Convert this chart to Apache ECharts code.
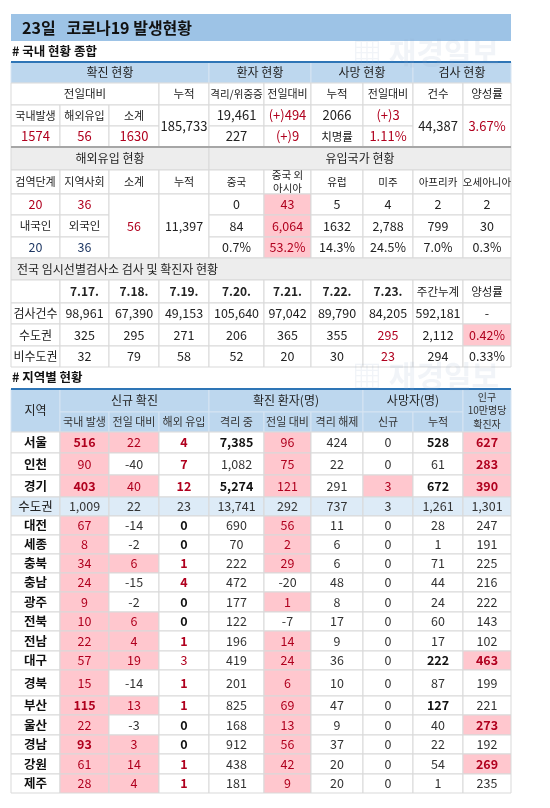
<!DOCTYPE html>
<html><head><meta charset="utf-8">
<script src="https://cdn.jsdelivr.net/npm/echarts@6/dist/echarts.min.js"></script>
<style>html,body{margin:0;padding:0;background:#fff}#c{width:550px;height:808px}</style>
</head><body><div id="c"></div>
<script>
// ---- data ----
const titleText = '23일   코로나19 발생현황';
const sec1Title = '# 국내 현황 종합';
const sec2Title = '# 지역별 현황';
const t1Header = ['확진 현황','환자 현황','사망 현황','검사 현황'];
const t1Sub = ['전일대비','누적','격리/위중증','전일대비','누적','전일대비','건수','양성률'];
const confirmedLabels = ['국내발생','해외유입','소계'];
const confirmedValues = ['1574','56','1630'];
const confirmedCumulative = '185,733';
const patients = ['19,461','(+)494','227','(+)9'];
const deaths = ['2066','(+)3','치명률','1.11%'];
const tests = ['44,387','3.67%'];
const importHeader = ['해외유입 현황','유입국가 현황'];
const importLabels = ['검역단계','지역사회','소계','누적'];
const importTop = ['20','36'];
const importMid = ['내국인','외국인'];
const importBottom = ['20','36'];
const importSubtotal = '56';
const importCumulative = '11,397';
const countries = ['중국','중국 외\n아시아','유럽','미주','아프리카','오세아니아'];
const countryToday = ['0','43','5','4','2','2'];
const countryCum = ['84','6,064','1632','2,788','799','30'];
const countryPct = ['0.7%','53.2%','14.3%','24.5%','7.0%','0.3%'];
const screenTitle = '전국 임시선별검사소 검사 및 확진자 현황';
const screenDates = ['7.17.','7.18.','7.19.','7.20.','7.21.','7.22.','7.23.','주간누계','양성률'];
const screenTests = ['98,961','67,390','49,153','105,640','97,042','89,790','84,205','592,181','-'];
const screenMetro = ['325','295','271','206','365','355','295','2,112','0.42%'];
const screenNonMetro = ['32','79','58','52','20','30','23','294','0.33%'];
const regionGroups = ['신규 확진','확진 환자(명)','사망자(명)'];
const regionSub = ['국내 발생','전일 대비','해외 유입','격리 중','전일 대비','격리 해제','신규','누적'];
const regions = ['서울','인천','경기','수도권','대전','세종','충북','충남','광주','전북','전남','대구','경북','부산','울산','경남','강원','제주'];
const domestic = ['516','90','403','1,009','67','8','34','24','9','10','22','57','15','115','22','93','61','28'];
const domesticDiff = ['22','-40','40','22','-14','-2','6','-15','-2','6','4','19','-14','13','-3','3','14','4'];
const imported = ['4','7','12','23','0','0','1','4','0','0','1','3','1','1','0','0','1','1'];
const isolated = ['7,385','1,082','5,274','13,741','690','70','222','472','177','122','196','419','201','825','168','912','438','181'];
const isolatedDiff = ['96','75','121','292','56','2','29','-20','1','-7','14','24','6','69','13','56','42','9'];
const released = ['424','22','291','737','11','6','6','48','8','17','9','36','10','47','9','37','20','20'];
const deathNew = ['0','0','3','3','0','0','0','0','0','0','0','0','0','0','0','0','0','0'];
const deathCum = ['528','61','672','1,261','28','1','71','44','24','60','17','222','87','127','40','22','54','1'];
const per100k = ['627','283','390','1,301','247','191','225','216','222','143','102','463','199','221','273','192','269','235'];
const regionStyles = ['PpRBp..BP','p.R.p...P','PpRBp.pBP','.........','p.B.p....','p.B.p....','ppR.p....','p.R......','p.B.p....','ppB......','ppR.p....','ppr.p..BP','p.R.p....','PpR.p..B.','p.B.p...P','PpB.p....','ppR.p...P','ppR.p....'];

// ---- layout ----
const X = [11,60,109,159,209,264,311,363,413,463,511];
const Y = [62,83,105,126,147,170,194,215,237,258,280,303,324,346,367];
const YH = [389,412,432];
const YR = [432,453,475,497,516,535,554,573,592,612,631,651,670,696,715,735,754,774,793];
const FONT = '"Noto Sans CJK KR","Noto Sans",sans-serif';
const PINK = '#FFC7CE', RED = '#B0001E', BLUE_H = '#BDD7EE', GRAY_H = '#EDEDED', GRID = '#D9D9D9';
const els = [];
function cell(t, c0, c1, y0, y1, o) {
  o = o || {};
  els.push({type:'rect', shape:{x:X[c0], y:y0, width:X[c1]-X[c0], height:y1-y0},
    style:{fill:o.bg||'#fff', stroke:o.stroke||GRID, lineWidth:1}, z:1});
  if (t !== '' && t != null) {
    els.push({type:'text', x: o.left ? X[c0]+6 : (X[c0]+X[c1])/2, y:(y0+y1)/2,
      style:{text:t, fill:o.color||'#222', font:(o.bold?'bold ':'')+(o.size||12)+'px '+FONT,
        align:o.left?'left':'center', verticalAlign:'middle', lineHeight:o.lh||14}, z:3});
  }
}
function sty(code){
  switch(code){
    case 'P': return {bg:PINK,color:RED,bold:true};
    case 'p': return {bg:PINK,color:RED};
    case 'R': return {color:RED,bold:true};
    case 'r': return {color:RED};
    case 'B': return {bold:true,color:'#111'};
    default: return {color:'#333'};
  }
}
// title
els.push({type:'rect', shape:{x:11,y:14,width:500,height:27}, style:{fill:'#9DC3E6'}, z:1});
els.push({type:'text', x:22, y:28, style:{text:titleText, font:'bold 16px '+FONT, fill:'#111', verticalAlign:'middle'}, z:3});
els.push({type:'text', x:12, y:51, style:{text:sec1Title, font:'bold 12.5px '+FONT, fill:'#111', verticalAlign:'middle'}, z:3});
// watermarks
[[352,53],[352,376]].forEach(p=>els.push({type:'text', x:p[0], y:p[1], style:{text:'▦ 재경일보', font:'bold 30px '+FONT, fill:'rgba(150,170,200,0.13)', verticalAlign:'middle'}, z:5}));

// table 1
const hb = {bg:BLUE_H, stroke:'#D6E4F2', color:'#222'};
[[0,4],[4,6],[6,8],[8,10]].forEach((s,i)=>cell(t1Header[i], s[0], s[1], Y[0], Y[1], hb));
[[0,3],[3,4],[4,5],[5,6],[6,7],[7,8],[8,9],[9,10]].forEach((s,i)=>cell(t1Sub[i], s[0], s[1], Y[1], Y[2], {size: i==2?10.5:(i==3||i==5?11:11.5)}));
confirmedLabels.forEach((t,i)=>cell(t,i,i+1,Y[2],Y[3],{size:11}));
confirmedValues.forEach((t,i)=>cell(t,i,i+1,Y[3],Y[4],{color:RED,size:13}));
cell(confirmedCumulative,3,4,Y[2],Y[4],{size:13});
cell(patients[0],4,5,Y[2],Y[3],{size:13}); cell(patients[1],5,6,Y[2],Y[3],{color:RED,size:13});
cell(patients[2],4,5,Y[3],Y[4],{size:13}); cell(patients[3],5,6,Y[3],Y[4],{color:RED,size:13});
cell(deaths[0],6,7,Y[2],Y[3],{size:13}); cell(deaths[1],7,8,Y[2],Y[3],{color:RED,size:13});
cell(deaths[2],6,7,Y[3],Y[4],{size:11.5}); cell(deaths[3],7,8,Y[3],Y[4],{color:RED,size:13});
cell(tests[0],8,9,Y[2],Y[4],{size:13}); cell(tests[1],9,10,Y[2],Y[4],{color:RED,size:13});
// table 2
cell(importHeader[0],0,4,Y[4],Y[5],{bg:GRAY_H}); cell(importHeader[1],4,10,Y[4],Y[5],{bg:GRAY_H});
importLabels.forEach((t,i)=>cell(t,i,i+1,Y[5],Y[6],{size:11}));
countries.forEach((t,i)=>cell(t,i+4,i+5,Y[5],Y[6],{size:10.5,lh:13}));
importTop.forEach((t,i)=>cell(t,i,i+1,Y[6],Y[7],{color:RED,size:12.5}));
importMid.forEach((t,i)=>cell(t,i,i+1,Y[7],Y[8],{size:11.5}));
importBottom.forEach((t,i)=>cell(t,i,i+1,Y[8],Y[9],{color:'#1F3864',size:12.5}));
cell(importSubtotal,2,3,Y[6],Y[9],{color:RED,size:12.5});
cell(importCumulative,3,4,Y[6],Y[9],{size:12.5});
[countryToday,countryCum,countryPct].forEach((arr,r)=>arr.forEach((t,i)=>cell(t,i+4,i+5,Y[6+r],Y[7+r], i==1?{bg:PINK,color:RED,size:12.5}:{size:12.5})));
// table 3
cell(screenTitle,0,10,Y[9],Y[10],{bg:GRAY_H,left:true,size:12});
cell('',0,1,Y[10],Y[11],{});
screenDates.forEach((t,i)=>cell(t,i+1,i+2,Y[10],Y[11],{bold:i<7,size:i<7?12:11.5}));
[['검사건수',screenTests],['수도권',screenMetro],['비수도권',screenNonMetro]].forEach((row,r)=>{
  cell(row[0],0,1,Y[11+r],Y[12+r],{size:12});
  row[1].forEach((t,i)=>{
    let o={size:12.5};
    if(i==6 && r>0) o.color=RED;
    if(i==8 && r==1){o.bg=PINK;o.color=RED;}
    cell(t,i+1,i+2,Y[11+r],Y[12+r],o);
  });
});
els.push({type:'line', shape:{x1:11,y1:Y[4],x2:511,y2:Y[4]}, style:{stroke:'#A6A6A6',lineWidth:2}, z:4});
els.push({type:'line', shape:{x1:11,y1:Y[0],x2:511,y2:Y[0]}, style:{stroke:'#2E75B6',lineWidth:2}, z:4});

// region table
els.push({type:'text', x:12, y:377, style:{text:sec2Title, font:'bold 12.5px '+FONT, fill:'#111', verticalAlign:'middle'}, z:3});
cell('지역',0,1,YH[0],YH[2],hb);
[[1,4],[4,7],[7,9]].forEach((s,i)=>cell(regionGroups[i],s[0],s[1],YH[0],YH[1],hb));
regionSub.forEach((t,i)=>cell(t,i+1,i+2,YH[1],YH[2],Object.assign({},hb,{size:11,color:'#333'})));
cell('인구\n10만명당\n확진자',9,10,YH[0],YH[2],Object.assign({},hb,{size:10,lh:13.5,color:'#333'}));
const cols = [domestic,domesticDiff,imported,isolated,isolatedDiff,released,deathNew,deathCum,per100k];
regions.forEach((reg,r)=>{
  const metro = reg==='수도권';
  cell(reg,0,1,YR[r],YR[r+1],metro?{bg:'#DDEBF7',size:12.5,color:'#222'}:{bold:true,size:12.5,color:'#111'});
  cols.forEach((arr,c)=>{
    const o = Object.assign({size:12.5}, sty(regionStyles[r][c]));
    if(metro) o.bg='#DDEBF7';
    cell(arr[r],c+1,c+2,YR[r],YR[r+1],o);
  });
});
els.push({type:'line', shape:{x1:11,y1:YH[0],x2:511,y2:YH[0]}, style:{stroke:'#2E75B6',lineWidth:2}, z:4});

const chart = echarts.init(document.getElementById('c'), null, {renderer:'canvas'});
chart.setOption({backgroundColor:'#fff', animation:false, graphic:{elements:els}});
</script></body></html>
